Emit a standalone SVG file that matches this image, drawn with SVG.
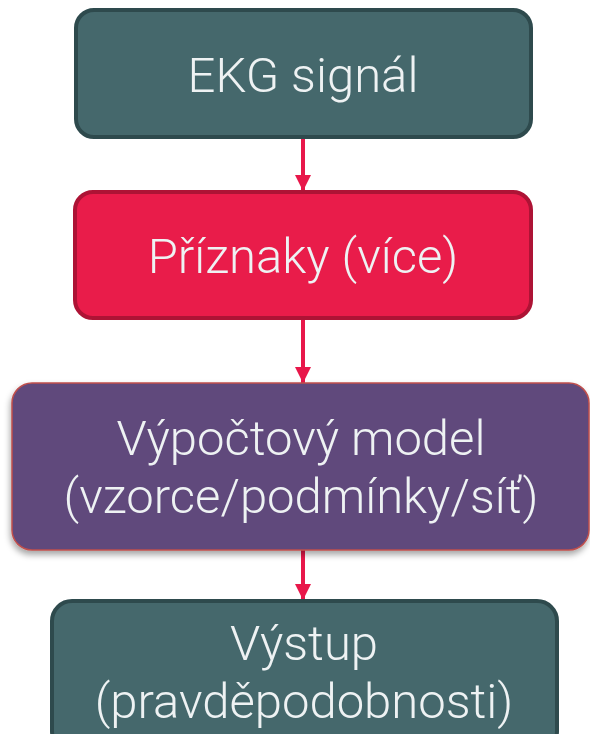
<svg xmlns="http://www.w3.org/2000/svg" width="590" height="734" viewBox="0 0 590 734">
  <style>
    .lbl { font-family: Roboto, "Liberation Sans", sans-serif; font-weight: 300; font-size: 49px; fill: #eef2f3; text-anchor: middle; }
    .teal { fill: #45686c; stroke: #2e4a4d; stroke-width: 4; }
    .red { fill: #e91c4a; stroke: #ad1335; stroke-width: 4; }
    .purple { fill: #614a7b; stroke: #c0504d; stroke-width: 1.5; }
    .conn { stroke: #e8174a; stroke-width: 4; fill: none; }
  </style>
  <defs>
    <marker id="arrow" viewBox="0 0 10 10" refX="10" refY="5" markerWidth="4" markerHeight="4" markerUnits="strokeWidth" orient="auto">
      <path d="M0,0 L10,5 L0,10 Z" fill="#e8174a"/>
    </marker>
    <filter id="shadow" x="-10%" y="-10%" width="120%" height="130%">
      <feDropShadow dx="-1" dy="4" stdDeviation="3" flood-color="#000" flood-opacity="0.35"/>
    </filter>
  </defs>

  <g id="connectors">
    <line class="conn" x1="303" y1="137" x2="303" y2="191" marker-end="url(#arrow)"/>
    <line class="conn" x1="303" y1="318" x2="303" y2="383" marker-end="url(#arrow)"/>
    <line class="conn" x1="303" y1="550" x2="303" y2="600" marker-end="url(#arrow)"/>
  </g>

  <g id="ekg">
    <rect class="teal" x="76" y="10" width="455" height="127" rx="18"/>
    <text class="lbl" x="303" y="92">EKG signál</text>
  </g>

  <g id="priznaky">
    <rect class="red" x="75" y="192" width="456" height="126" rx="18"/>
    <text class="lbl" x="303" y="273">Příznaky (více)</text>
  </g>

  <g id="model">
    <rect class="purple" x="12" y="383" width="577" height="167" rx="20" filter="url(#shadow)"/>
    <text class="lbl" x="301" y="455">Výpočtový model</text>
    <text class="lbl" x="301" y="513">(vzorce/podmínky/síť)</text>
  </g>

  <g id="vystup">
    <rect class="teal" x="52" y="601" width="505" height="150" rx="20"/>
    <text class="lbl" x="304" y="660">Výstup</text>
    <text class="lbl" x="304" y="718">(pravděpodobnosti)</text>
  </g>
</svg>
